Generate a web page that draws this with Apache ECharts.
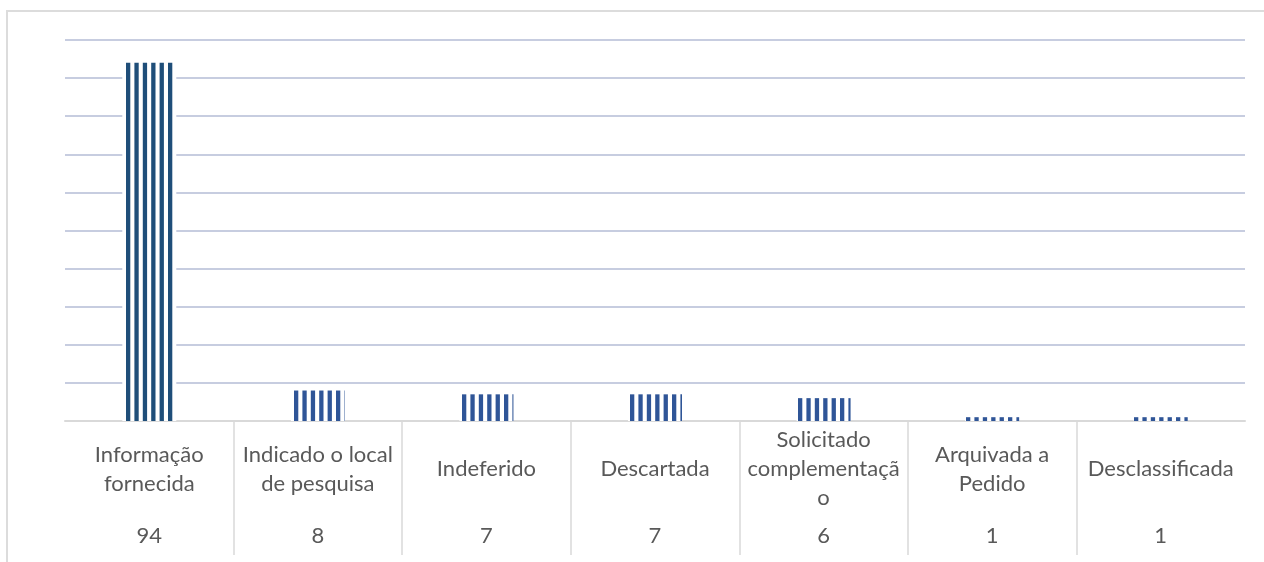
<!DOCTYPE html>
<html>
<head>
<meta charset="utf-8">
<script src="https://cdn.jsdelivr.net/npm/echarts@6/dist/echarts.min.js"></script>
<style>
  html, body { margin: 0; padding: 0; background: #ffffff; }
  #chart { width: 1264px; height: 562px; }
</style>
</head>
<body>
<div id="chart"></div>
<script>
// Pedidos por tipo de resposta
const categories = [
  'Informação\nfornecida',
  'Indicado o local\nde pesquisa',
  'Indeferido',
  'Descartada',
  'Solicitado\ncomplementaçã\no',
  'Arquivada a\nPedido',
  'Desclassificada'
];
const values = [94, 8, 7, 7, 6, 1, 1];
const valueLabels = values.map(String);

const yMin = 0;
const yMax = 100;
const yStep = 10;

const FONT = 'Lato, "Liberation Sans", sans-serif';
const TEXT = '#595959';

// Striped bar fill: white body, vertical stripes on a shared page-wide rhythm
const BAR_W = 54;
const STRIPE_PERIOD = 8.4;
const STRIPE_W = 4.3;
const STRIPE_ANCHOR = 126;

function renderStripedBar(params, api) {
  const idx = api.value(0);
  const v = api.value(1);
  const top = api.coord([idx, v]);
  const base = api.coord([idx, 0]);
  const left = top[0] - BAR_W / 2;
  const right = left + BAR_W;
  const h = base[1] - top[1];
  const color = idx === 0 ? '#1F4E79' : '#2F5597';
  const children = [{
    type: 'rect',
    shape: { x: left, y: top[1], width: BAR_W, height: h },
    style: { fill: '#ffffff' }
  }];
  let k = Math.floor((left - STRIPE_ANCHOR) / STRIPE_PERIOD);
  for (;; k++) {
    const s = STRIPE_ANCHOR + k * STRIPE_PERIOD;
    if (s >= right) break;
    const x0 = Math.max(s, left);
    const x1 = Math.min(s + STRIPE_W, right);
    if (x1 - x0 > 0.05) {
      children.push({
        type: 'rect',
        shape: { x: x0, y: top[1], width: x1 - x0, height: h },
        style: { fill: color }
      });
    }
  }
  return { type: 'group', children: children };
}

const chart = echarts.init(document.getElementById('chart'), null, { renderer: 'canvas' });

chart.setOption({
  animation: false,
  backgroundColor: '#ffffff',
  graphic: [{
    type: 'rect',
    silent: true,
    z: -10,
    shape: { x: 7, y: 11, width: 1300, height: 600 },
    style: { fill: 'none', stroke: '#DCDCDC', lineWidth: 2 }
  }],
  grid: [
    { left: 65, right: 19, top: 40, bottom: 141 },
    { left: 65, right: 19, top: 421, bottom: 7 }
  ],
  xAxis: [
    {
      gridIndex: 0,
      type: 'category',
      data: categories,
      axisLine: { show: true, lineStyle: { color: '#D9D9D9', width: 2 } },
      axisTick: { show: false },
      axisLabel: { show: false },
      splitLine: { show: false }
    },
    {
      gridIndex: 1,
      type: 'category',
      data: categories,
      position: 'top',
      axisLine: { show: false },
      axisTick: { show: false },
      splitLine: {
        show: true,
        interval: 0,
        showMinLine: false,
        showMaxLine: false,
        lineStyle: { color: '#D9D9D9', width: 1.5 }
      },
      axisLabel: {
        inside: true,
        interval: 0,
        margin: 48,
        verticalAlign: 'middle',
        align: 'center',
        lineHeight: 29,
        fontSize: 22,
        fontFamily: FONT,
        color: TEXT
      }
    },
    {
      gridIndex: 1,
      type: 'category',
      data: valueLabels,
      position: 'bottom',
      axisLine: { show: false },
      axisTick: { show: false },
      splitLine: { show: false },
      axisLabel: {
        inside: true,
        interval: 0,
        margin: 19,
        verticalAlign: 'middle',
        align: 'center',
        fontSize: 22,
        fontFamily: FONT,
        color: TEXT
      }
    }
  ],
  yAxis: [
    {
      gridIndex: 0,
      type: 'value',
      min: yMin,
      max: yMax,
      interval: yStep,
      axisLine: { show: false },
      axisTick: { show: false },
      axisLabel: { show: false },
      splitLine: {
        show: true,
        showMinLine: false,
        lineStyle: { color: '#B4BDD6', width: 1.5 }
      }
    },
    { gridIndex: 1, type: 'value', show: false }
  ],
  series: [{
    type: 'custom',
    xAxisIndex: 0,
    yAxisIndex: 0,
    silent: true,
    z: 2,
    encode: { x: 0, y: 1 },
    renderItem: renderStripedBar,
    data: values.map((v, i) => [i, v])
  }]
});
</script>
</body>
</html>
